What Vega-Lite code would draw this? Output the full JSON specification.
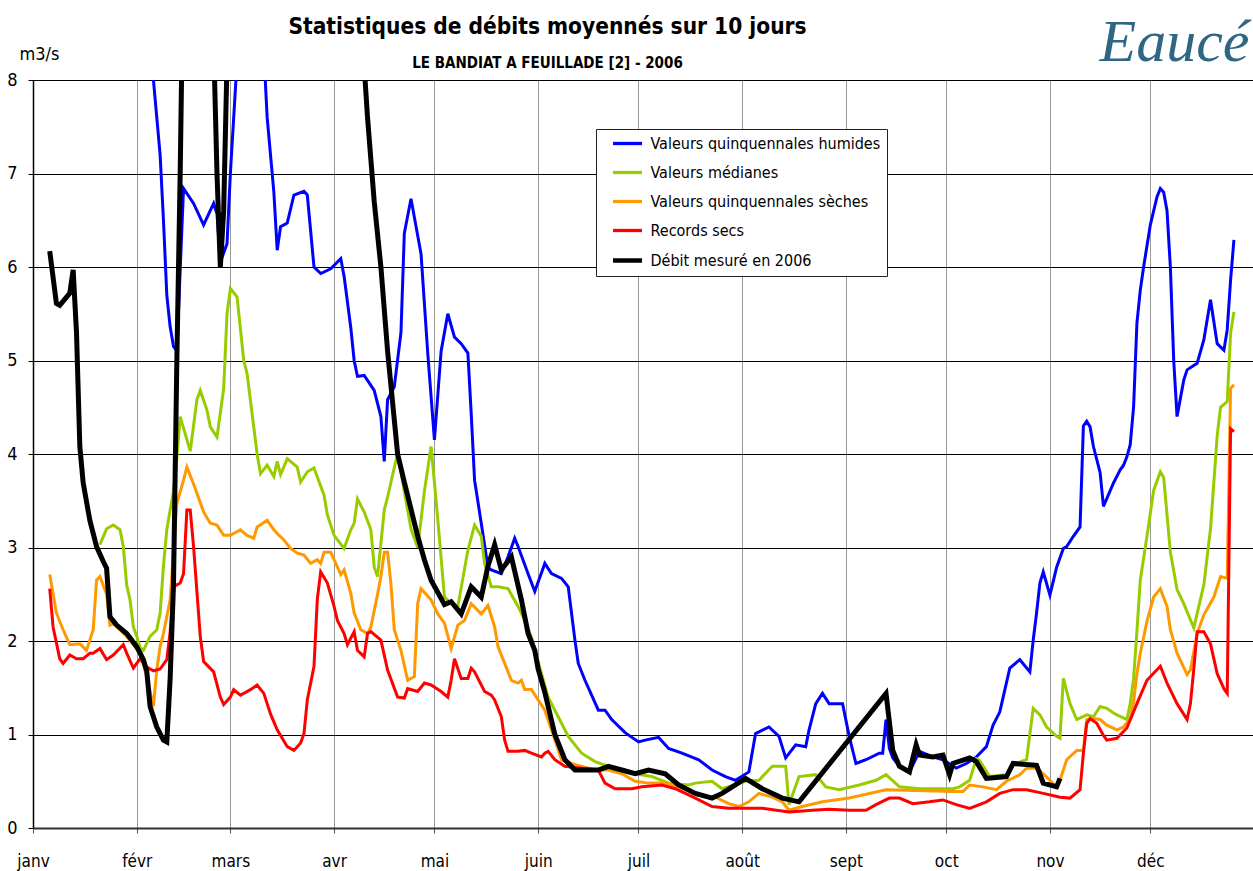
{
  "$schema": "https://vega.github.io/schema/vega-lite/v6.json",
  "autosize": "none",
  "width": 1221,
  "height": 748,
  "padding": {"left": 33, "top": 80, "right": 0, "bottom": 43},
  "background": "white",
  "title": {
    "text": "Statistiques de débits moyennés sur 10 jours",
    "subtitle": "LE BANDIAT A FEUILLADE [2] - 2006",
    "anchor": "middle",
    "dx": -96,
    "dy": 69,
    "offset": 10,
    "font": "DejaVu Sans Condensed",
    "fontSize": 22.5,
    "fontWeight": "bold",
    "color": "black",
    "subtitleFont": "DejaVu Sans Condensed",
    "subtitleFontSize": 15,
    "subtitleFontWeight": "bold",
    "subtitleColor": "black",
    "subtitlePadding": 18
  },
  "data": {"values": [
    {"serie":"Valeurs quinquennales humides","jour":5,"debit":11},
    {"serie":"Valeurs quinquennales humides","jour":15,"debit":13},
    {"serie":"Valeurs quinquennales humides","jour":25,"debit":12},
    {"serie":"Valeurs quinquennales humides","jour":33,"debit":9.5},
    {"serie":"Valeurs quinquennales humides","jour":35,"debit":8.5},
    {"serie":"Valeurs quinquennales humides","jour":36,"debit":8.0},
    {"serie":"Valeurs quinquennales humides","jour":37,"debit":7.6},
    {"serie":"Valeurs quinquennales humides","jour":38,"debit":7.2},
    {"serie":"Valeurs quinquennales humides","jour":39,"debit":6.5},
    {"serie":"Valeurs quinquennales humides","jour":40,"debit":5.7},
    {"serie":"Valeurs quinquennales humides","jour":41,"debit":5.36},
    {"serie":"Valeurs quinquennales humides","jour":42,"debit":5.15},
    {"serie":"Valeurs quinquennales humides","jour":43,"debit":5.1},
    {"serie":"Valeurs quinquennales humides","jour":45,"debit":6.84},
    {"serie":"Valeurs quinquennales humides","jour":48,"debit":6.68},
    {"serie":"Valeurs quinquennales humides","jour":51,"debit":6.45},
    {"serie":"Valeurs quinquennales humides","jour":54,"debit":6.68},
    {"serie":"Valeurs quinquennales humides","jour":55,"debit":6.57},
    {"serie":"Valeurs quinquennales humides","jour":56,"debit":6.05},
    {"serie":"Valeurs quinquennales humides","jour":58,"debit":6.25},
    {"serie":"Valeurs quinquennales humides","jour":59,"debit":7.0},
    {"serie":"Valeurs quinquennales humides","jour":61,"debit":8.2},
    {"serie":"Valeurs quinquennales humides","jour":63,"debit":10},
    {"serie":"Valeurs quinquennales humides","jour":66,"debit":10},
    {"serie":"Valeurs quinquennales humides","jour":69,"debit":8.3},
    {"serie":"Valeurs quinquennales humides","jour":70,"debit":7.6},
    {"serie":"Valeurs quinquennales humides","jour":71,"debit":7.2},
    {"serie":"Valeurs quinquennales humides","jour":72,"debit":6.8},
    {"serie":"Valeurs quinquennales humides","jour":73,"debit":6.18},
    {"serie":"Valeurs quinquennales humides","jour":74,"debit":6.43},
    {"serie":"Valeurs quinquennales humides","jour":76,"debit":6.47},
    {"serie":"Valeurs quinquennales humides","jour":78,"debit":6.77},
    {"serie":"Valeurs quinquennales humides","jour":81,"debit":6.81},
    {"serie":"Valeurs quinquennales humides","jour":82,"debit":6.77},
    {"serie":"Valeurs quinquennales humides","jour":84,"debit":6.0},
    {"serie":"Valeurs quinquennales humides","jour":86,"debit":5.93},
    {"serie":"Valeurs quinquennales humides","jour":89,"debit":5.98},
    {"serie":"Valeurs quinquennales humides","jour":92,"debit":6.09},
    {"serie":"Valeurs quinquennales humides","jour":93,"debit":5.9},
    {"serie":"Valeurs quinquennales humides","jour":95,"debit":5.35},
    {"serie":"Valeurs quinquennales humides","jour":96,"debit":5.0},
    {"serie":"Valeurs quinquennales humides","jour":97,"debit":4.83},
    {"serie":"Valeurs quinquennales humides","jour":99,"debit":4.84},
    {"serie":"Valeurs quinquennales humides","jour":102,"debit":4.68},
    {"serie":"Valeurs quinquennales humides","jour":104,"debit":4.4},
    {"serie":"Valeurs quinquennales humides","jour":105,"debit":3.92},
    {"serie":"Valeurs quinquennales humides","jour":106,"debit":4.58},
    {"serie":"Valeurs quinquennales humides","jour":108,"debit":4.72},
    {"serie":"Valeurs quinquennales humides","jour":110,"debit":5.3},
    {"serie":"Valeurs quinquennales humides","jour":111,"debit":6.36},
    {"serie":"Valeurs quinquennales humides","jour":113,"debit":6.73},
    {"serie":"Valeurs quinquennales humides","jour":116,"debit":6.14},
    {"serie":"Valeurs quinquennales humides","jour":118,"debit":5.08},
    {"serie":"Valeurs quinquennales humides","jour":120,"debit":4.15},
    {"serie":"Valeurs quinquennales humides","jour":122,"debit":5.1},
    {"serie":"Valeurs quinquennales humides","jour":124,"debit":5.5},
    {"serie":"Valeurs quinquennales humides","jour":126,"debit":5.25},
    {"serie":"Valeurs quinquennales humides","jour":128,"debit":5.18},
    {"serie":"Valeurs quinquennales humides","jour":130,"debit":5.08},
    {"serie":"Valeurs quinquennales humides","jour":131,"debit":4.43},
    {"serie":"Valeurs quinquennales humides","jour":132,"debit":3.72},
    {"serie":"Valeurs quinquennales humides","jour":134,"debit":3.26},
    {"serie":"Valeurs quinquennales humides","jour":136,"debit":2.79},
    {"serie":"Valeurs quinquennales humides","jour":137,"debit":2.76},
    {"serie":"Valeurs quinquennales humides","jour":140,"debit":2.72},
    {"serie":"Valeurs quinquennales humides","jour":142,"debit":2.9},
    {"serie":"Valeurs quinquennales humides","jour":144,"debit":3.1},
    {"serie":"Valeurs quinquennales humides","jour":145,"debit":3.01},
    {"serie":"Valeurs quinquennales humides","jour":148,"debit":2.72},
    {"serie":"Valeurs quinquennales humides","jour":150,"debit":2.53},
    {"serie":"Valeurs quinquennales humides","jour":153,"debit":2.83},
    {"serie":"Valeurs quinquennales humides","jour":155,"debit":2.72},
    {"serie":"Valeurs quinquennales humides","jour":158,"debit":2.67},
    {"serie":"Valeurs quinquennales humides","jour":160,"debit":2.58},
    {"serie":"Valeurs quinquennales humides","jour":162,"debit":2.01},
    {"serie":"Valeurs quinquennales humides","jour":163,"debit":1.76},
    {"serie":"Valeurs quinquennales humides","jour":165,"debit":1.58},
    {"serie":"Valeurs quinquennales humides","jour":169,"debit":1.26},
    {"serie":"Valeurs quinquennales humides","jour":171,"debit":1.26},
    {"serie":"Valeurs quinquennales humides","jour":173,"debit":1.16},
    {"serie":"Valeurs quinquennales humides","jour":177,"debit":1.02},
    {"serie":"Valeurs quinquennales humides","jour":181,"debit":0.92},
    {"serie":"Valeurs quinquennales humides","jour":183,"debit":0.94},
    {"serie":"Valeurs quinquennales humides","jour":187,"debit":0.97},
    {"serie":"Valeurs quinquennales humides","jour":190,"debit":0.85},
    {"serie":"Valeurs quinquennales humides","jour":194,"debit":0.8},
    {"serie":"Valeurs quinquennales humides","jour":199,"debit":0.73},
    {"serie":"Valeurs quinquennales humides","jour":203,"debit":0.62},
    {"serie":"Valeurs quinquennales humides","jour":207,"debit":0.55},
    {"serie":"Valeurs quinquennales humides","jour":210,"debit":0.51},
    {"serie":"Valeurs quinquennales humides","jour":214,"debit":0.6},
    {"serie":"Valeurs quinquennales humides","jour":216,"debit":1.01},
    {"serie":"Valeurs quinquennales humides","jour":220,"debit":1.08},
    {"serie":"Valeurs quinquennales humides","jour":223,"debit":0.98},
    {"serie":"Valeurs quinquennales humides","jour":225,"debit":0.75},
    {"serie":"Valeurs quinquennales humides","jour":228,"debit":0.89},
    {"serie":"Valeurs quinquennales humides","jour":231,"debit":0.87},
    {"serie":"Valeurs quinquennales humides","jour":232,"debit":1.05},
    {"serie":"Valeurs quinquennales humides","jour":234,"debit":1.33},
    {"serie":"Valeurs quinquennales humides","jour":236,"debit":1.44},
    {"serie":"Valeurs quinquennales humides","jour":238,"debit":1.33},
    {"serie":"Valeurs quinquennales humides","jour":242,"debit":1.33},
    {"serie":"Valeurs quinquennales humides","jour":244,"debit":0.98},
    {"serie":"Valeurs quinquennales humides","jour":246,"debit":0.69},
    {"serie":"Valeurs quinquennales humides","jour":249,"debit":0.73},
    {"serie":"Valeurs quinquennales humides","jour":253,"debit":0.8},
    {"serie":"Valeurs quinquennales humides","jour":254,"debit":0.8},
    {"serie":"Valeurs quinquennales humides","jour":255,"debit":1.16},
    {"serie":"Valeurs quinquennales humides","jour":256,"debit":0.85},
    {"serie":"Valeurs quinquennales humides","jour":257,"debit":0.75},
    {"serie":"Valeurs quinquennales humides","jour":259,"debit":0.66},
    {"serie":"Valeurs quinquennales humides","jour":262,"debit":0.6},
    {"serie":"Valeurs quinquennales humides","jour":265,"debit":0.82},
    {"serie":"Valeurs quinquennales humides","jour":269,"debit":0.76},
    {"serie":"Valeurs quinquennales humides","jour":272,"debit":0.73},
    {"serie":"Valeurs quinquennales humides","jour":276,"debit":0.64},
    {"serie":"Valeurs quinquennales humides","jour":279,"debit":0.69},
    {"serie":"Valeurs quinquennales humides","jour":282,"debit":0.76},
    {"serie":"Valeurs quinquennales humides","jour":285,"debit":0.87},
    {"serie":"Valeurs quinquennales humides","jour":287,"debit":1.1},
    {"serie":"Valeurs quinquennales humides","jour":289,"debit":1.24},
    {"serie":"Valeurs quinquennales humides","jour":292,"debit":1.71},
    {"serie":"Valeurs quinquennales humides","jour":295,"debit":1.8},
    {"serie":"Valeurs quinquennales humides","jour":298,"debit":1.67},
    {"serie":"Valeurs quinquennales humides","jour":299,"debit":2.01},
    {"serie":"Valeurs quinquennales humides","jour":300,"debit":2.3},
    {"serie":"Valeurs quinquennales humides","jour":301,"debit":2.62},
    {"serie":"Valeurs quinquennales humides","jour":302,"debit":2.74},
    {"serie":"Valeurs quinquennales humides","jour":304,"debit":2.49},
    {"serie":"Valeurs quinquennales humides","jour":306,"debit":2.79},
    {"serie":"Valeurs quinquennales humides","jour":308,"debit":2.99},
    {"serie":"Valeurs quinquennales humides","jour":309,"debit":3.01},
    {"serie":"Valeurs quinquennales humides","jour":311,"debit":3.12},
    {"serie":"Valeurs quinquennales humides","jour":313,"debit":3.22},
    {"serie":"Valeurs quinquennales humides","jour":314,"debit":4.3},
    {"serie":"Valeurs quinquennales humides","jour":315,"debit":4.35},
    {"serie":"Valeurs quinquennales humides","jour":316,"debit":4.29},
    {"serie":"Valeurs quinquennales humides","jour":317,"debit":4.08},
    {"serie":"Valeurs quinquennales humides","jour":319,"debit":3.8},
    {"serie":"Valeurs quinquennales humides","jour":320,"debit":3.44},
    {"serie":"Valeurs quinquennales humides","jour":323,"debit":3.69},
    {"serie":"Valeurs quinquennales humides","jour":325,"debit":3.83},
    {"serie":"Valeurs quinquennales humides","jour":326,"debit":3.88},
    {"serie":"Valeurs quinquennales humides","jour":327,"debit":3.97},
    {"serie":"Valeurs quinquennales humides","jour":328,"debit":4.1},
    {"serie":"Valeurs quinquennales humides","jour":329,"debit":4.5},
    {"serie":"Valeurs quinquennales humides","jour":330,"debit":5.4},
    {"serie":"Valeurs quinquennales humides","jour":331,"debit":5.75},
    {"serie":"Valeurs quinquennales humides","jour":332,"debit":6.0},
    {"serie":"Valeurs quinquennales humides","jour":334,"debit":6.45},
    {"serie":"Valeurs quinquennales humides","jour":336,"debit":6.75},
    {"serie":"Valeurs quinquennales humides","jour":337,"debit":6.84},
    {"serie":"Valeurs quinquennales humides","jour":338,"debit":6.8},
    {"serie":"Valeurs quinquennales humides","jour":339,"debit":6.6},
    {"serie":"Valeurs quinquennales humides","jour":340,"debit":6.0},
    {"serie":"Valeurs quinquennales humides","jour":341,"debit":5.0},
    {"serie":"Valeurs quinquennales humides","jour":342,"debit":4.4},
    {"serie":"Valeurs quinquennales humides","jour":344,"debit":4.79},
    {"serie":"Valeurs quinquennales humides","jour":345,"debit":4.9},
    {"serie":"Valeurs quinquennales humides","jour":348,"debit":4.97},
    {"serie":"Valeurs quinquennales humides","jour":350,"debit":5.22},
    {"serie":"Valeurs quinquennales humides","jour":352,"debit":5.65},
    {"serie":"Valeurs quinquennales humides","jour":354,"debit":5.18},
    {"serie":"Valeurs quinquennales humides","jour":356,"debit":5.11},
    {"serie":"Valeurs quinquennales humides","jour":357,"debit":5.33},
    {"serie":"Valeurs quinquennales humides","jour":358,"debit":5.86},
    {"serie":"Valeurs quinquennales humides","jour":359,"debit":6.29},

    {"serie":"Valeurs médianes","jour":20,"debit":3.03},
    {"serie":"Valeurs médianes","jour":22,"debit":3.2},
    {"serie":"Valeurs médianes","jour":24,"debit":3.24},
    {"serie":"Valeurs médianes","jour":26,"debit":3.19},
    {"serie":"Valeurs médianes","jour":27,"debit":3.01},
    {"serie":"Valeurs médianes","jour":28,"debit":2.6},
    {"serie":"Valeurs médianes","jour":29,"debit":2.44},
    {"serie":"Valeurs médianes","jour":30,"debit":2.15},
    {"serie":"Valeurs médianes","jour":31,"debit":2.05},
    {"serie":"Valeurs médianes","jour":32,"debit":1.93},
    {"serie":"Valeurs médianes","jour":33,"debit":1.9},
    {"serie":"Valeurs médianes","jour":35,"debit":2.05},
    {"serie":"Valeurs médianes","jour":37,"debit":2.12},
    {"serie":"Valeurs médianes","jour":38,"debit":2.3},
    {"serie":"Valeurs médianes","jour":39,"debit":2.8},
    {"serie":"Valeurs médianes","jour":40,"debit":3.19},
    {"serie":"Valeurs médianes","jour":41,"debit":3.4},
    {"serie":"Valeurs médianes","jour":42,"debit":3.6},
    {"serie":"Valeurs médianes","jour":43,"debit":3.95},
    {"serie":"Valeurs médianes","jour":44,"debit":4.4},
    {"serie":"Valeurs médianes","jour":47,"debit":4.03},
    {"serie":"Valeurs médianes","jour":49,"debit":4.58},
    {"serie":"Valeurs médianes","jour":50,"debit":4.68},
    {"serie":"Valeurs médianes","jour":52,"debit":4.47},
    {"serie":"Valeurs médianes","jour":53,"debit":4.29},
    {"serie":"Valeurs médianes","jour":55,"debit":4.18},
    {"serie":"Valeurs médianes","jour":57,"debit":4.7},
    {"serie":"Valeurs médianes","jour":58,"debit":5.5},
    {"serie":"Valeurs médianes","jour":59,"debit":5.77},
    {"serie":"Valeurs médianes","jour":61,"debit":5.68},
    {"serie":"Valeurs médianes","jour":63,"debit":5.0},
    {"serie":"Valeurs médianes","jour":64,"debit":4.86},
    {"serie":"Valeurs médianes","jour":67,"debit":4.0},
    {"serie":"Valeurs médianes","jour":68,"debit":3.79},
    {"serie":"Valeurs médianes","jour":70,"debit":3.88},
    {"serie":"Valeurs médianes","jour":72,"debit":3.76},
    {"serie":"Valeurs médianes","jour":73,"debit":3.92},
    {"serie":"Valeurs médianes","jour":74,"debit":3.78},
    {"serie":"Valeurs médianes","jour":76,"debit":3.95},
    {"serie":"Valeurs médianes","jour":79,"debit":3.86},
    {"serie":"Valeurs médianes","jour":80,"debit":3.7},
    {"serie":"Valeurs médianes","jour":82,"debit":3.81},
    {"serie":"Valeurs médianes","jour":84,"debit":3.85},
    {"serie":"Valeurs médianes","jour":87,"debit":3.56},
    {"serie":"Valeurs médianes","jour":88,"debit":3.35},
    {"serie":"Valeurs médianes","jour":90,"debit":3.13},
    {"serie":"Valeurs médianes","jour":93,"debit":2.99},
    {"serie":"Valeurs médianes","jour":95,"debit":3.19},
    {"serie":"Valeurs médianes","jour":96,"debit":3.26},
    {"serie":"Valeurs médianes","jour":97,"debit":3.52},
    {"serie":"Valeurs médianes","jour":99,"debit":3.38},
    {"serie":"Valeurs médianes","jour":101,"debit":3.19},
    {"serie":"Valeurs médianes","jour":102,"debit":2.79},
    {"serie":"Valeurs médianes","jour":103,"debit":2.69},
    {"serie":"Valeurs médianes","jour":105,"debit":3.4},
    {"serie":"Valeurs médianes","jour":106,"debit":3.54},
    {"serie":"Valeurs médianes","jour":109,"debit":4.01},
    {"serie":"Valeurs médianes","jour":111,"debit":3.6},
    {"serie":"Valeurs médianes","jour":113,"debit":3.2},
    {"serie":"Valeurs médianes","jour":115,"debit":3.0},
    {"serie":"Valeurs médianes","jour":117,"debit":3.6},
    {"serie":"Valeurs médianes","jour":119,"debit":4.08},
    {"serie":"Valeurs médianes","jour":120,"debit":3.7},
    {"serie":"Valeurs médianes","jour":121,"debit":3.3},
    {"serie":"Valeurs médianes","jour":123,"debit":2.47},
    {"serie":"Valeurs médianes","jour":125,"debit":2.4},
    {"serie":"Valeurs médianes","jour":127,"debit":2.37},
    {"serie":"Valeurs médianes","jour":130,"debit":2.97},
    {"serie":"Valeurs médianes","jour":132,"debit":3.24},
    {"serie":"Valeurs médianes","jour":134,"debit":3.12},
    {"serie":"Valeurs médianes","jour":135,"debit":2.83},
    {"serie":"Valeurs médianes","jour":137,"debit":2.58},
    {"serie":"Valeurs médianes","jour":139,"debit":2.58},
    {"serie":"Valeurs médianes","jour":142,"debit":2.56},
    {"serie":"Valeurs médianes","jour":145,"debit":2.37},
    {"serie":"Valeurs médianes","jour":147,"debit":2.22},
    {"serie":"Valeurs médianes","jour":149,"debit":2.04},
    {"serie":"Valeurs médianes","jour":152,"debit":1.65},
    {"serie":"Valeurs médianes","jour":154,"debit":1.4},
    {"serie":"Valeurs médianes","jour":157,"debit":1.19},
    {"serie":"Valeurs médianes","jour":160,"debit":0.98},
    {"serie":"Valeurs médianes","jour":164,"debit":0.8},
    {"serie":"Valeurs médianes","jour":168,"debit":0.71},
    {"serie":"Valeurs médianes","jour":172,"debit":0.66},
    {"serie":"Valeurs médianes","jour":176,"debit":0.62},
    {"serie":"Valeurs médianes","jour":180,"debit":0.58},
    {"serie":"Valeurs médianes","jour":185,"debit":0.55},
    {"serie":"Valeurs médianes","jour":190,"debit":0.48},
    {"serie":"Valeurs médianes","jour":196,"debit":0.46},
    {"serie":"Valeurs médianes","jour":198,"debit":0.48},
    {"serie":"Valeurs médianes","jour":203,"debit":0.5},
    {"serie":"Valeurs médianes","jour":206,"debit":0.42},
    {"serie":"Valeurs médianes","jour":213,"debit":0.5},
    {"serie":"Valeurs médianes","jour":217,"debit":0.51},
    {"serie":"Valeurs médianes","jour":221,"debit":0.66},
    {"serie":"Valeurs médianes","jour":225,"debit":0.66},
    {"serie":"Valeurs médianes","jour":226,"debit":0.25},
    {"serie":"Valeurs médianes","jour":229,"debit":0.55},
    {"serie":"Valeurs médianes","jour":234,"debit":0.57},
    {"serie":"Valeurs médianes","jour":237,"debit":0.44},
    {"serie":"Valeurs médianes","jour":241,"debit":0.41},
    {"serie":"Valeurs médianes","jour":247,"debit":0.46},
    {"serie":"Valeurs médianes","jour":252,"debit":0.51},
    {"serie":"Valeurs médianes","jour":255,"debit":0.57},
    {"serie":"Valeurs médianes","jour":259,"debit":0.44},
    {"serie":"Valeurs médianes","jour":265,"debit":0.42},
    {"serie":"Valeurs médianes","jour":275,"debit":0.42},
    {"serie":"Valeurs médianes","jour":277,"debit":0.44},
    {"serie":"Valeurs médianes","jour":280,"debit":0.51},
    {"serie":"Valeurs médianes","jour":282,"debit":0.74},
    {"serie":"Valeurs médianes","jour":283,"debit":0.72},
    {"serie":"Valeurs médianes","jour":286,"debit":0.55},
    {"serie":"Valeurs médianes","jour":291,"debit":0.57},
    {"serie":"Valeurs médianes","jour":293,"debit":0.68},
    {"serie":"Valeurs médianes","jour":297,"debit":0.73},
    {"serie":"Valeurs médianes","jour":299,"debit":1.28},
    {"serie":"Valeurs médianes","jour":301,"debit":1.21},
    {"serie":"Valeurs médianes","jour":303,"debit":1.08},
    {"serie":"Valeurs médianes","jour":306,"debit":0.98},
    {"serie":"Valeurs médianes","jour":307,"debit":0.96},
    {"serie":"Valeurs médianes","jour":308,"debit":1.6},
    {"serie":"Valeurs médianes","jour":310,"debit":1.33},
    {"serie":"Valeurs médianes","jour":312,"debit":1.16},
    {"serie":"Valeurs médianes","jour":315,"debit":1.21},
    {"serie":"Valeurs médianes","jour":317,"debit":1.19},
    {"serie":"Valeurs médianes","jour":319,"debit":1.3},
    {"serie":"Valeurs médianes","jour":321,"debit":1.28},
    {"serie":"Valeurs médianes","jour":323,"debit":1.23},
    {"serie":"Valeurs médianes","jour":324,"debit":1.21},
    {"serie":"Valeurs médianes","jour":327,"debit":1.16},
    {"serie":"Valeurs médianes","jour":328,"debit":1.33},
    {"serie":"Valeurs médianes","jour":329,"debit":1.6},
    {"serie":"Valeurs médianes","jour":330,"debit":2.1},
    {"serie":"Valeurs médianes","jour":331,"debit":2.65},
    {"serie":"Valeurs médianes","jour":333,"debit":3.12},
    {"serie":"Valeurs médianes","jour":335,"debit":3.61},
    {"serie":"Valeurs médianes","jour":337,"debit":3.81},
    {"serie":"Valeurs médianes","jour":338,"debit":3.75},
    {"serie":"Valeurs médianes","jour":340,"debit":2.95},
    {"serie":"Valeurs médianes","jour":342,"debit":2.55},
    {"serie":"Valeurs médianes","jour":344,"debit":2.4},
    {"serie":"Valeurs médianes","jour":347,"debit":2.14},
    {"serie":"Valeurs médianes","jour":350,"debit":2.6},
    {"serie":"Valeurs médianes","jour":352,"debit":3.2},
    {"serie":"Valeurs médianes","jour":354,"debit":4.2},
    {"serie":"Valeurs médianes","jour":355,"debit":4.5},
    {"serie":"Valeurs médianes","jour":357,"debit":4.56},
    {"serie":"Valeurs médianes","jour":358,"debit":5.29},
    {"serie":"Valeurs médianes","jour":359,"debit":5.52},

    {"serie":"Valeurs quinquennales sèches","jour":5,"debit":2.71},
    {"serie":"Valeurs quinquennales sèches","jour":7,"debit":2.3},
    {"serie":"Valeurs quinquennales sèches","jour":9,"debit":2.12},
    {"serie":"Valeurs quinquennales sèches","jour":11,"debit":1.96},
    {"serie":"Valeurs quinquennales sèches","jour":14,"debit":1.97},
    {"serie":"Valeurs quinquennales sèches","jour":16,"debit":1.9},
    {"serie":"Valeurs quinquennales sèches","jour":18,"debit":2.12},
    {"serie":"Valeurs quinquennales sèches","jour":19,"debit":2.65},
    {"serie":"Valeurs quinquennales sèches","jour":20,"debit":2.69},
    {"serie":"Valeurs quinquennales sèches","jour":22,"debit":2.5},
    {"serie":"Valeurs quinquennales sèches","jour":23,"debit":2.17},
    {"serie":"Valeurs quinquennales sèches","jour":24,"debit":2.19},
    {"serie":"Valeurs quinquennales sèches","jour":28,"debit":2.05},
    {"serie":"Valeurs quinquennales sèches","jour":32,"debit":1.87},
    {"serie":"Valeurs quinquennales sèches","jour":34,"debit":1.62},
    {"serie":"Valeurs quinquennales sèches","jour":36,"debit":1.3},
    {"serie":"Valeurs quinquennales sèches","jour":37,"debit":1.69},
    {"serie":"Valeurs quinquennales sèches","jour":38,"debit":1.94},
    {"serie":"Valeurs quinquennales sèches","jour":39,"debit":2.08},
    {"serie":"Valeurs quinquennales sèches","jour":41,"debit":2.44},
    {"serie":"Valeurs quinquennales sèches","jour":43,"debit":3.47},
    {"serie":"Valeurs quinquennales sèches","jour":45,"debit":3.72},
    {"serie":"Valeurs quinquennales sèches","jour":46,"debit":3.86},
    {"serie":"Valeurs quinquennales sèches","jour":48,"debit":3.68},
    {"serie":"Valeurs quinquennales sèches","jour":51,"debit":3.38},
    {"serie":"Valeurs quinquennales sèches","jour":53,"debit":3.26},
    {"serie":"Valeurs quinquennales sèches","jour":55,"debit":3.24},
    {"serie":"Valeurs quinquennales sèches","jour":57,"debit":3.13},
    {"serie":"Valeurs quinquennales sèches","jour":59,"debit":3.13},
    {"serie":"Valeurs quinquennales sèches","jour":62,"debit":3.19},
    {"serie":"Valeurs quinquennales sèches","jour":64,"debit":3.13},
    {"serie":"Valeurs quinquennales sèches","jour":66,"debit":3.1},
    {"serie":"Valeurs quinquennales sèches","jour":67,"debit":3.22},
    {"serie":"Valeurs quinquennales sèches","jour":70,"debit":3.29},
    {"serie":"Valeurs quinquennales sèches","jour":72,"debit":3.19},
    {"serie":"Valeurs quinquennales sèches","jour":73,"debit":3.15},
    {"serie":"Valeurs quinquennales sèches","jour":75,"debit":3.08},
    {"serie":"Valeurs quinquennales sèches","jour":77,"debit":2.99},
    {"serie":"Valeurs quinquennales sèches","jour":79,"debit":2.94},
    {"serie":"Valeurs quinquennales sèches","jour":81,"debit":2.92},
    {"serie":"Valeurs quinquennales sèches","jour":83,"debit":2.83},
    {"serie":"Valeurs quinquennales sèches","jour":85,"debit":2.87},
    {"serie":"Valeurs quinquennales sèches","jour":86,"debit":2.83},
    {"serie":"Valeurs quinquennales sèches","jour":87,"debit":2.95},
    {"serie":"Valeurs quinquennales sèches","jour":89,"debit":2.95},
    {"serie":"Valeurs quinquennales sèches","jour":90,"debit":2.87},
    {"serie":"Valeurs quinquennales sèches","jour":92,"debit":2.71},
    {"serie":"Valeurs quinquennales sèches","jour":93,"debit":2.76},
    {"serie":"Valeurs quinquennales sèches","jour":95,"debit":2.51},
    {"serie":"Valeurs quinquennales sèches","jour":96,"debit":2.3},
    {"serie":"Valeurs quinquennales sèches","jour":98,"debit":2.12},
    {"serie":"Valeurs quinquennales sèches","jour":100,"debit":2.08},
    {"serie":"Valeurs quinquennales sèches","jour":101,"debit":2.15},
    {"serie":"Valeurs quinquennales sèches","jour":103,"debit":2.5},
    {"serie":"Valeurs quinquennales sèches","jour":104,"debit":2.69},
    {"serie":"Valeurs quinquennales sèches","jour":105,"debit":2.95},
    {"serie":"Valeurs quinquennales sèches","jour":106,"debit":2.95},
    {"serie":"Valeurs quinquennales sèches","jour":107,"debit":2.61},
    {"serie":"Valeurs quinquennales sèches","jour":108,"debit":2.12},
    {"serie":"Valeurs quinquennales sèches","jour":110,"debit":1.9},
    {"serie":"Valeurs quinquennales sèches","jour":112,"debit":1.58},
    {"serie":"Valeurs quinquennales sèches","jour":114,"debit":1.62},
    {"serie":"Valeurs quinquennales sèches","jour":115,"debit":2.4},
    {"serie":"Valeurs quinquennales sèches","jour":116,"debit":2.56},
    {"serie":"Valeurs quinquennales sèches","jour":119,"debit":2.44},
    {"serie":"Valeurs quinquennales sèches","jour":121,"debit":2.29},
    {"serie":"Valeurs quinquennales sèches","jour":123,"debit":2.19},
    {"serie":"Valeurs quinquennales sèches","jour":125,"debit":1.92},
    {"serie":"Valeurs quinquennales sèches","jour":127,"debit":2.17},
    {"serie":"Valeurs quinquennales sèches","jour":129,"debit":2.22},
    {"serie":"Valeurs quinquennales sèches","jour":131,"debit":2.4},
    {"serie":"Valeurs quinquennales sèches","jour":134,"debit":2.29},
    {"serie":"Valeurs quinquennales sèches","jour":136,"debit":2.38},
    {"serie":"Valeurs quinquennales sèches","jour":138,"debit":2.15},
    {"serie":"Valeurs quinquennales sèches","jour":139,"debit":1.94},
    {"serie":"Valeurs quinquennales sèches","jour":143,"debit":1.58},
    {"serie":"Valeurs quinquennales sèches","jour":145,"debit":1.55},
    {"serie":"Valeurs quinquennales sèches","jour":146,"debit":1.58},
    {"serie":"Valeurs quinquennales sèches","jour":147,"debit":1.48},
    {"serie":"Valeurs quinquennales sèches","jour":149,"debit":1.48},
    {"serie":"Valeurs quinquennales sèches","jour":151,"debit":1.37},
    {"serie":"Valeurs quinquennales sèches","jour":153,"debit":1.26},
    {"serie":"Valeurs quinquennales sèches","jour":155,"debit":1.05},
    {"serie":"Valeurs quinquennales sèches","jour":158,"debit":0.73},
    {"serie":"Valeurs quinquennales sèches","jour":161,"debit":0.69},
    {"serie":"Valeurs quinquennales sèches","jour":163,"debit":0.67},
    {"serie":"Valeurs quinquennales sèches","jour":168,"debit":0.62},
    {"serie":"Valeurs quinquennales sèches","jour":172,"debit":0.62},
    {"serie":"Valeurs quinquennales sèches","jour":176,"debit":0.58},
    {"serie":"Valeurs quinquennales sèches","jour":180,"debit":0.5},
    {"serie":"Valeurs quinquennales sèches","jour":184,"debit":0.48},
    {"serie":"Valeurs quinquennales sèches","jour":189,"debit":0.48},
    {"serie":"Valeurs quinquennales sèches","jour":193,"debit":0.44},
    {"serie":"Valeurs quinquennales sèches","jour":199,"debit":0.35},
    {"serie":"Valeurs quinquennales sèches","jour":204,"debit":0.33},
    {"serie":"Valeurs quinquennales sèches","jour":208,"debit":0.26},
    {"serie":"Valeurs quinquennales sèches","jour":211,"debit":0.23},
    {"serie":"Valeurs quinquennales sèches","jour":214,"debit":0.28},
    {"serie":"Valeurs quinquennales sèches","jour":217,"debit":0.37},
    {"serie":"Valeurs quinquennales sèches","jour":221,"debit":0.33},
    {"serie":"Valeurs quinquennales sèches","jour":224,"debit":0.28},
    {"serie":"Valeurs quinquennales sèches","jour":226,"debit":0.19},
    {"serie":"Valeurs quinquennales sèches","jour":230,"debit":0.23},
    {"serie":"Valeurs quinquennales sèches","jour":236,"debit":0.28},
    {"serie":"Valeurs quinquennales sèches","jour":244,"debit":0.32},
    {"serie":"Valeurs quinquennales sèches","jour":255,"debit":0.41},
    {"serie":"Valeurs quinquennales sèches","jour":275,"debit":0.39},
    {"serie":"Valeurs quinquennales sèches","jour":278,"debit":0.39},
    {"serie":"Valeurs quinquennales sèches","jour":280,"debit":0.46},
    {"serie":"Valeurs quinquennales sèches","jour":284,"debit":0.44},
    {"serie":"Valeurs quinquennales sèches","jour":288,"debit":0.41},
    {"serie":"Valeurs quinquennales sèches","jour":291,"debit":0.5},
    {"serie":"Valeurs quinquennales sèches","jour":295,"debit":0.57},
    {"serie":"Valeurs quinquennales sèches","jour":297,"debit":0.64},
    {"serie":"Valeurs quinquennales sèches","jour":300,"debit":0.64},
    {"serie":"Valeurs quinquennales sèches","jour":302,"debit":0.58},
    {"serie":"Valeurs quinquennales sèches","jour":306,"debit":0.44},
    {"serie":"Valeurs quinquennales sèches","jour":307,"debit":0.51},
    {"serie":"Valeurs quinquennales sèches","jour":309,"debit":0.73},
    {"serie":"Valeurs quinquennales sèches","jour":312,"debit":0.83},
    {"serie":"Valeurs quinquennales sèches","jour":314,"debit":0.83},
    {"serie":"Valeurs quinquennales sèches","jour":315,"debit":1.16},
    {"serie":"Valeurs quinquennales sèches","jour":317,"debit":1.17},
    {"serie":"Valeurs quinquennales sèches","jour":319,"debit":1.16},
    {"serie":"Valeurs quinquennales sèches","jour":321,"debit":1.1},
    {"serie":"Valeurs quinquennales sèches","jour":324,"debit":1.05},
    {"serie":"Valeurs quinquennales sèches","jour":326,"debit":1.08},
    {"serie":"Valeurs quinquennales sèches","jour":328,"debit":1.17},
    {"serie":"Valeurs quinquennales sèches","jour":329,"debit":1.35},
    {"serie":"Valeurs quinquennales sèches","jour":330,"debit":1.65},
    {"serie":"Valeurs quinquennales sèches","jour":331,"debit":1.87},
    {"serie":"Valeurs quinquennales sèches","jour":333,"debit":2.21},
    {"serie":"Valeurs quinquennales sèches","jour":335,"debit":2.47},
    {"serie":"Valeurs quinquennales sèches","jour":337,"debit":2.56},
    {"serie":"Valeurs quinquennales sèches","jour":339,"debit":2.37},
    {"serie":"Valeurs quinquennales sèches","jour":340,"debit":2.12},
    {"serie":"Valeurs quinquennales sèches","jour":342,"debit":1.87},
    {"serie":"Valeurs quinquennales sèches","jour":345,"debit":1.64},
    {"serie":"Valeurs quinquennales sèches","jour":346,"debit":1.69},
    {"serie":"Valeurs quinquennales sèches","jour":348,"debit":2.08},
    {"serie":"Valeurs quinquennales sèches","jour":350,"debit":2.28},
    {"serie":"Valeurs quinquennales sèches","jour":353,"debit":2.47},
    {"serie":"Valeurs quinquennales sèches","jour":355,"debit":2.69},
    {"serie":"Valeurs quinquennales sèches","jour":357,"debit":2.67},
    {"serie":"Valeurs quinquennales sèches","jour":358,"debit":4.7},
    {"serie":"Valeurs quinquennales sèches","jour":359,"debit":4.74},

    {"serie":"Records secs","jour":5,"debit":2.56},
    {"serie":"Records secs","jour":6,"debit":2.15},
    {"serie":"Records secs","jour":7,"debit":1.98},
    {"serie":"Records secs","jour":8,"debit":1.81},
    {"serie":"Records secs","jour":9,"debit":1.76},
    {"serie":"Records secs","jour":11,"debit":1.85},
    {"serie":"Records secs","jour":13,"debit":1.81},
    {"serie":"Records secs","jour":15,"debit":1.81},
    {"serie":"Records secs","jour":17,"debit":1.87},
    {"serie":"Records secs","jour":18,"debit":1.87},
    {"serie":"Records secs","jour":20,"debit":1.92},
    {"serie":"Records secs","jour":22,"debit":1.8},
    {"serie":"Records secs","jour":24,"debit":1.85},
    {"serie":"Records secs","jour":27,"debit":1.96},
    {"serie":"Records secs","jour":28,"debit":1.87},
    {"serie":"Records secs","jour":30,"debit":1.71},
    {"serie":"Records secs","jour":32,"debit":1.81},
    {"serie":"Records secs","jour":34,"debit":1.72},
    {"serie":"Records secs","jour":36,"debit":1.68},
    {"serie":"Records secs","jour":38,"debit":1.7},
    {"serie":"Records secs","jour":40,"debit":1.8},
    {"serie":"Records secs","jour":41,"debit":2.1},
    {"serie":"Records secs","jour":42,"debit":2.58},
    {"serie":"Records secs","jour":44,"debit":2.62},
    {"serie":"Records secs","jour":45,"debit":2.72},
    {"serie":"Records secs","jour":46,"debit":3.4},
    {"serie":"Records secs","jour":47,"debit":3.4},
    {"serie":"Records secs","jour":48,"debit":3.01},
    {"serie":"Records secs","jour":50,"debit":2.05},
    {"serie":"Records secs","jour":51,"debit":1.78},
    {"serie":"Records secs","jour":54,"debit":1.67},
    {"serie":"Records secs","jour":56,"debit":1.4},
    {"serie":"Records secs","jour":57,"debit":1.32},
    {"serie":"Records secs","jour":59,"debit":1.4},
    {"serie":"Records secs","jour":60,"debit":1.48},
    {"serie":"Records secs","jour":62,"debit":1.42},
    {"serie":"Records secs","jour":65,"debit":1.48},
    {"serie":"Records secs","jour":67,"debit":1.53},
    {"serie":"Records secs","jour":69,"debit":1.44},
    {"serie":"Records secs","jour":71,"debit":1.22},
    {"serie":"Records secs","jour":73,"debit":1.05},
    {"serie":"Records secs","jour":76,"debit":0.87},
    {"serie":"Records secs","jour":78,"debit":0.83},
    {"serie":"Records secs","jour":80,"debit":0.91},
    {"serie":"Records secs","jour":81,"debit":1.01},
    {"serie":"Records secs","jour":82,"debit":1.37},
    {"serie":"Records secs","jour":84,"debit":1.73},
    {"serie":"Records secs","jour":85,"debit":2.45},
    {"serie":"Records secs","jour":86,"debit":2.74},
    {"serie":"Records secs","jour":88,"debit":2.62},
    {"serie":"Records secs","jour":90,"debit":2.37},
    {"serie":"Records secs","jour":91,"debit":2.22},
    {"serie":"Records secs","jour":93,"debit":2.08},
    {"serie":"Records secs","jour":94,"debit":1.96},
    {"serie":"Records secs","jour":96,"debit":2.1},
    {"serie":"Records secs","jour":97,"debit":1.9},
    {"serie":"Records secs","jour":99,"debit":1.83},
    {"serie":"Records secs","jour":100,"debit":2.08},
    {"serie":"Records secs","jour":101,"debit":2.1},
    {"serie":"Records secs","jour":104,"debit":2.01},
    {"serie":"Records secs","jour":106,"debit":1.69},
    {"serie":"Records secs","jour":109,"debit":1.4},
    {"serie":"Records secs","jour":111,"debit":1.39},
    {"serie":"Records secs","jour":112,"debit":1.49},
    {"serie":"Records secs","jour":115,"debit":1.46},
    {"serie":"Records secs","jour":117,"debit":1.55},
    {"serie":"Records secs","jour":119,"debit":1.53},
    {"serie":"Records secs","jour":122,"debit":1.46},
    {"serie":"Records secs","jour":124,"debit":1.4},
    {"serie":"Records secs","jour":125,"debit":1.58},
    {"serie":"Records secs","jour":126,"debit":1.81},
    {"serie":"Records secs","jour":128,"debit":1.6},
    {"serie":"Records secs","jour":130,"debit":1.6},
    {"serie":"Records secs","jour":131,"debit":1.71},
    {"serie":"Records secs","jour":132,"debit":1.67},
    {"serie":"Records secs","jour":135,"debit":1.46},
    {"serie":"Records secs","jour":137,"debit":1.42},
    {"serie":"Records secs","jour":138,"debit":1.37},
    {"serie":"Records secs","jour":140,"debit":1.19},
    {"serie":"Records secs","jour":141,"debit":0.94},
    {"serie":"Records secs","jour":142,"debit":0.82},
    {"serie":"Records secs","jour":145,"debit":0.82},
    {"serie":"Records secs","jour":147,"debit":0.83},
    {"serie":"Records secs","jour":149,"debit":0.8},
    {"serie":"Records secs","jour":152,"debit":0.76},
    {"serie":"Records secs","jour":153,"debit":0.8},
    {"serie":"Records secs","jour":154,"debit":0.82},
    {"serie":"Records secs","jour":156,"debit":0.73},
    {"serie":"Records secs","jour":159,"debit":0.66},
    {"serie":"Records secs","jour":169,"debit":0.62},
    {"serie":"Records secs","jour":171,"debit":0.48},
    {"serie":"Records secs","jour":174,"debit":0.42},
    {"serie":"Records secs","jour":179,"debit":0.42},
    {"serie":"Records secs","jour":182,"debit":0.44},
    {"serie":"Records secs","jour":188,"debit":0.46},
    {"serie":"Records secs","jour":192,"debit":0.42},
    {"serie":"Records secs","jour":198,"debit":0.32},
    {"serie":"Records secs","jour":203,"debit":0.23},
    {"serie":"Records secs","jour":208,"debit":0.21},
    {"serie":"Records secs","jour":218,"debit":0.21},
    {"serie":"Records secs","jour":226,"debit":0.17},
    {"serie":"Records secs","jour":233,"debit":0.19},
    {"serie":"Records secs","jour":238,"debit":0.2},
    {"serie":"Records secs","jour":244,"debit":0.19},
    {"serie":"Records secs","jour":249,"debit":0.19},
    {"serie":"Records secs","jour":252,"debit":0.25},
    {"serie":"Records secs","jour":256,"debit":0.32},
    {"serie":"Records secs","jour":259,"debit":0.32},
    {"serie":"Records secs","jour":263,"debit":0.26},
    {"serie":"Records secs","jour":268,"debit":0.28},
    {"serie":"Records secs","jour":272,"debit":0.3},
    {"serie":"Records secs","jour":276,"debit":0.25},
    {"serie":"Records secs","jour":280,"debit":0.21},
    {"serie":"Records secs","jour":285,"debit":0.28},
    {"serie":"Records secs","jour":289,"debit":0.37},
    {"serie":"Records secs","jour":293,"debit":0.41},
    {"serie":"Records secs","jour":297,"debit":0.41},
    {"serie":"Records secs","jour":302,"debit":0.37},
    {"serie":"Records secs","jour":307,"debit":0.33},
    {"serie":"Records secs","jour":310,"debit":0.32},
    {"serie":"Records secs","jour":313,"debit":0.41},
    {"serie":"Records secs","jour":314,"debit":0.8},
    {"serie":"Records secs","jour":315,"debit":1.12},
    {"serie":"Records secs","jour":316,"debit":1.17},
    {"serie":"Records secs","jour":318,"debit":1.12},
    {"serie":"Records secs","jour":320,"debit":0.99},
    {"serie":"Records secs","jour":321,"debit":0.94},
    {"serie":"Records secs","jour":324,"debit":0.96},
    {"serie":"Records secs","jour":327,"debit":1.07},
    {"serie":"Records secs","jour":330,"debit":1.33},
    {"serie":"Records secs","jour":333,"debit":1.58},
    {"serie":"Records secs","jour":337,"debit":1.73},
    {"serie":"Records secs","jour":339,"debit":1.55},
    {"serie":"Records secs","jour":342,"debit":1.33},
    {"serie":"Records secs","jour":345,"debit":1.16},
    {"serie":"Records secs","jour":346,"debit":1.33},
    {"serie":"Records secs","jour":347,"debit":1.7},
    {"serie":"Records secs","jour":348,"debit":2.1},
    {"serie":"Records secs","jour":350,"debit":2.1},
    {"serie":"Records secs","jour":352,"debit":1.97},
    {"serie":"Records secs","jour":354,"debit":1.65},
    {"serie":"Records secs","jour":356,"debit":1.49},
    {"serie":"Records secs","jour":357,"debit":1.44},
    {"serie":"Records secs","jour":358,"debit":4.27},
    {"serie":"Records secs","jour":359,"debit":4.24},

    {"serie":"Débit mesuré en 2006","jour":5,"debit":6.17},
    {"serie":"Débit mesuré en 2006","jour":7,"debit":5.61},
    {"serie":"Débit mesuré en 2006","jour":8,"debit":5.59},
    {"serie":"Débit mesuré en 2006","jour":11,"debit":5.72},
    {"serie":"Débit mesuré en 2006","jour":12,"debit":5.97},
    {"serie":"Débit mesuré en 2006","jour":13,"debit":5.3},
    {"serie":"Débit mesuré en 2006","jour":14,"debit":4.08},
    {"serie":"Débit mesuré en 2006","jour":15,"debit":3.69},
    {"serie":"Débit mesuré en 2006","jour":17,"debit":3.29},
    {"serie":"Débit mesuré en 2006","jour":19,"debit":3.01},
    {"serie":"Débit mesuré en 2006","jour":21,"debit":2.85},
    {"serie":"Débit mesuré en 2006","jour":22,"debit":2.78},
    {"serie":"Débit mesuré en 2006","jour":23,"debit":2.26},
    {"serie":"Débit mesuré en 2006","jour":25,"debit":2.17},
    {"serie":"Débit mesuré en 2006","jour":28,"debit":2.08},
    {"serie":"Débit mesuré en 2006","jour":31,"debit":1.94},
    {"serie":"Débit mesuré en 2006","jour":33,"debit":1.8},
    {"serie":"Débit mesuré en 2006","jour":34,"debit":1.68},
    {"serie":"Débit mesuré en 2006","jour":35,"debit":1.3},
    {"serie":"Débit mesuré en 2006","jour":37,"debit":1.08},
    {"serie":"Débit mesuré en 2006","jour":39,"debit":0.94},
    {"serie":"Débit mesuré en 2006","jour":40,"debit":0.92},
    {"serie":"Débit mesuré en 2006","jour":41,"debit":1.6},
    {"serie":"Débit mesuré en 2006","jour":42,"debit":2.6},
    {"serie":"Débit mesuré en 2006","jour":43,"debit":5.0},
    {"serie":"Débit mesuré en 2006","jour":44,"debit":7.0},
    {"serie":"Débit mesuré en 2006","jour":45,"debit":9.5},
    {"serie":"Débit mesuré en 2006","jour":48,"debit":13},
    {"serie":"Débit mesuré en 2006","jour":51,"debit":12},
    {"serie":"Débit mesuré en 2006","jour":53,"debit":10},
    {"serie":"Débit mesuré en 2006","jour":54,"debit":8.4},
    {"serie":"Débit mesuré en 2006","jour":55,"debit":7.0},
    {"serie":"Débit mesuré en 2006","jour":56,"debit":6.0},
    {"serie":"Débit mesuré en 2006","jour":57,"debit":6.6},
    {"serie":"Débit mesuré en 2006","jour":58,"debit":8.2},
    {"serie":"Débit mesuré en 2006","jour":60,"debit":11},
    {"serie":"Débit mesuré en 2006","jour":65,"debit":15},
    {"serie":"Débit mesuré en 2006","jour":75,"debit":16},
    {"serie":"Débit mesuré en 2006","jour":85,"debit":13},
    {"serie":"Débit mesuré en 2006","jour":93,"debit":10.5},
    {"serie":"Débit mesuré en 2006","jour":98,"debit":8.7},
    {"serie":"Débit mesuré en 2006","jour":99,"debit":8.15},
    {"serie":"Débit mesuré en 2006","jour":100,"debit":7.6},
    {"serie":"Débit mesuré en 2006","jour":102,"debit":6.7},
    {"serie":"Débit mesuré en 2006","jour":104,"debit":6.0},
    {"serie":"Débit mesuré en 2006","jour":106,"debit":5.1},
    {"serie":"Débit mesuré en 2006","jour":109,"debit":4.0},
    {"serie":"Débit mesuré en 2006","jour":111,"debit":3.7},
    {"serie":"Débit mesuré en 2006","jour":115,"debit":3.12},
    {"serie":"Débit mesuré en 2006","jour":117,"debit":2.87},
    {"serie":"Débit mesuré en 2006","jour":119,"debit":2.65},
    {"serie":"Débit mesuré en 2006","jour":123,"debit":2.39},
    {"serie":"Débit mesuré en 2006","jour":125,"debit":2.42},
    {"serie":"Débit mesuré en 2006","jour":128,"debit":2.29},
    {"serie":"Débit mesuré en 2006","jour":131,"debit":2.58},
    {"serie":"Débit mesuré en 2006","jour":134,"debit":2.47},
    {"serie":"Débit mesuré en 2006","jour":136,"debit":2.8},
    {"serie":"Débit mesuré en 2006","jour":138,"debit":3.03},
    {"serie":"Débit mesuré en 2006","jour":140,"debit":2.76},
    {"serie":"Débit mesuré en 2006","jour":143,"debit":2.9},
    {"serie":"Débit mesuré en 2006","jour":146,"debit":2.44},
    {"serie":"Débit mesuré en 2006","jour":148,"debit":2.08},
    {"serie":"Débit mesuré en 2006","jour":150,"debit":1.9},
    {"serie":"Débit mesuré en 2006","jour":151,"debit":1.7},
    {"serie":"Débit mesuré en 2006","jour":153,"debit":1.45},
    {"serie":"Débit mesuré en 2006","jour":156,"debit":1.0},
    {"serie":"Débit mesuré en 2006","jour":159,"debit":0.73},
    {"serie":"Débit mesuré en 2006","jour":162,"debit":0.62},
    {"serie":"Débit mesuré en 2006","jour":169,"debit":0.62},
    {"serie":"Débit mesuré en 2006","jour":172,"debit":0.66},
    {"serie":"Débit mesuré en 2006","jour":176,"debit":0.62},
    {"serie":"Débit mesuré en 2006","jour":180,"debit":0.58},
    {"serie":"Débit mesuré en 2006","jour":184,"debit":0.62},
    {"serie":"Débit mesuré en 2006","jour":189,"debit":0.58},
    {"serie":"Débit mesuré en 2006","jour":193,"debit":0.46},
    {"serie":"Débit mesuré en 2006","jour":198,"debit":0.37},
    {"serie":"Débit mesuré en 2006","jour":203,"debit":0.32},
    {"serie":"Débit mesuré en 2006","jour":206,"debit":0.37},
    {"serie":"Débit mesuré en 2006","jour":213,"debit":0.53},
    {"serie":"Débit mesuré en 2006","jour":218,"debit":0.42},
    {"serie":"Débit mesuré en 2006","jour":224,"debit":0.32},
    {"serie":"Débit mesuré en 2006","jour":229,"debit":0.28},
    {"serie":"Débit mesuré en 2006","jour":255,"debit":1.44},
    {"serie":"Débit mesuré en 2006","jour":257,"debit":0.83},
    {"serie":"Débit mesuré en 2006","jour":259,"debit":0.66},
    {"serie":"Débit mesuré en 2006","jour":262,"debit":0.6},
    {"serie":"Débit mesuré en 2006","jour":264,"debit":0.89},
    {"serie":"Débit mesuré en 2006","jour":265,"debit":0.78},
    {"serie":"Débit mesuré en 2006","jour":269,"debit":0.76},
    {"serie":"Débit mesuré en 2006","jour":272,"debit":0.78},
    {"serie":"Débit mesuré en 2006","jour":274,"debit":0.57},
    {"serie":"Débit mesuré en 2006","jour":275,"debit":0.69},
    {"serie":"Débit mesuré en 2006","jour":280,"debit":0.75},
    {"serie":"Débit mesuré en 2006","jour":282,"debit":0.71},
    {"serie":"Débit mesuré en 2006","jour":285,"debit":0.53},
    {"serie":"Débit mesuré en 2006","jour":291,"debit":0.55},
    {"serie":"Débit mesuré en 2006","jour":293,"debit":0.69},
    {"serie":"Débit mesuré en 2006","jour":300,"debit":0.67},
    {"serie":"Débit mesuré en 2006","jour":302,"debit":0.48},
    {"serie":"Débit mesuré en 2006","jour":306,"debit":0.44},
    {"serie":"Débit mesuré en 2006","jour":307,"debit":0.53}
  ]},
  "encoding": {
    "x": {
      "field": "jour",
      "type": "quantitative",
      "scale": {"domain": [0, 365], "nice": false, "zero": false},
      "axis": {
        "values": [0, 31, 59, 90, 120, 151, 181, 212, 243, 273, 304, 334],
        "labelExpr": "['janv','févr','mars','avr','mai','juin','juil','août','sept','oct','nov','déc'][indexof([0,31,59,90,120,151,181,212,243,273,304,334], datum.value)]",
        "grid": true,
        "gridColor": "#999999",
        "gridWidth": 1,
        "domainColor": "#333333",
        "domainWidth": 2,
        "tickColor": "#555555",
        "tickSize": 5,
        "labelPadding": 20,
        "labelFontSize": 17,
        "labelFont": "DejaVu Sans Condensed",
        "labelColor": "black",
        "labelDx": 2,
        "labelFlush": false,
        "labelOverlap": false,
        "title": "Eaucé",
        "titleFont": "Liberation Serif",
        "titleFontStyle": "italic",
        "titleFontWeight": "normal",
        "titleFontSize": 60,
        "titleColor": "#2f6684",
        "titleAlign": "left",
        "titleBaseline": "alphabetic",
        "titleAnchor": null,
        "titleX": 1066,
        "titleY": -768
      }
    },
    "y": {
      "field": "debit",
      "type": "quantitative",
      "scale": {"domain": [0, 8], "nice": false},
      "axis": {
        "values": [0, 1, 2, 3, 4, 5, 6, 7, 8],
        "grid": true,
        "gridColor": "black",
        "gridWidth": 1,
        "domainColor": "black",
        "domainWidth": 1.5,
        "tickColor": "black",
        "tickSize": 5,
        "labelPadding": 11,
        "labelFontSize": 18,
        "labelFont": "DejaVu Sans Condensed",
        "labelColor": "black",
        "title": "m3/s",
        "titleFont": "DejaVu Sans Condensed",
        "titleFontSize": 18,
        "titleFontWeight": "normal",
        "titleColor": "black",
        "titleAngle": 0,
        "titleAlign": "left",
        "titleBaseline": "alphabetic",
        "titleX": -14,
        "titleY": -21
      }
    },
    "color": {
      "field": "serie",
      "type": "nominal",
      "scale": {
        "domain": ["Valeurs quinquennales humides", "Valeurs médianes", "Valeurs quinquennales sèches", "Records secs", "Débit mesuré en 2006"],
        "range": ["#0000ff", "#99cc00", "#ff9900", "#ff0000", "#000000"]
      },
      "legend": {
        "orient": "none",
        "legendX": 563,
        "legendY": 49,
        "title": null,
        "padding": 6.5,
        "rowPadding": 13,
        "symbolType": "stroke",
        "symbolSize": 841,
        "symbolStrokeWidth": 3.3,
        "symbolOffset": 17,
        "labelOffset": 15,
        "labelFont": "DejaVu Sans Condensed",
        "labelFontSize": 16,
        "labelColor": "black",
        "labelLimit": 400,
        "labelExpr": "datum.label + '\u00a0\u00a0'",
        "strokeColor": "#222222",
        "fillColor": "white",
        "encode": {
          "symbols": {"update": {"strokeWidth": {"signal": "datum.value === 'Débit mesuré en 2006' ? 4.5 : 3.3"}}}
        }
      }
    }
  },
  "layer": [
    {"transform": [{"filter": "datum.serie === 'Valeurs quinquennales humides'"}], "mark": {"type": "line", "strokeWidth": 3, "clip": true}},
    {"transform": [{"filter": "datum.serie === 'Valeurs médianes'"}], "mark": {"type": "line", "strokeWidth": 3, "clip": true}},
    {"transform": [{"filter": "datum.serie === 'Valeurs quinquennales sèches'"}], "mark": {"type": "line", "strokeWidth": 3, "clip": true}},
    {"transform": [{"filter": "datum.serie === 'Records secs'"}], "mark": {"type": "line", "strokeWidth": 3, "clip": true}},
    {"transform": [{"filter": "datum.serie === 'Débit mesuré en 2006'"}], "mark": {"type": "line", "strokeWidth": 5, "clip": true}}
  ],
  "config": {
    "view": {"stroke": null},
    "font": "DejaVu Sans Condensed"
  }
}
